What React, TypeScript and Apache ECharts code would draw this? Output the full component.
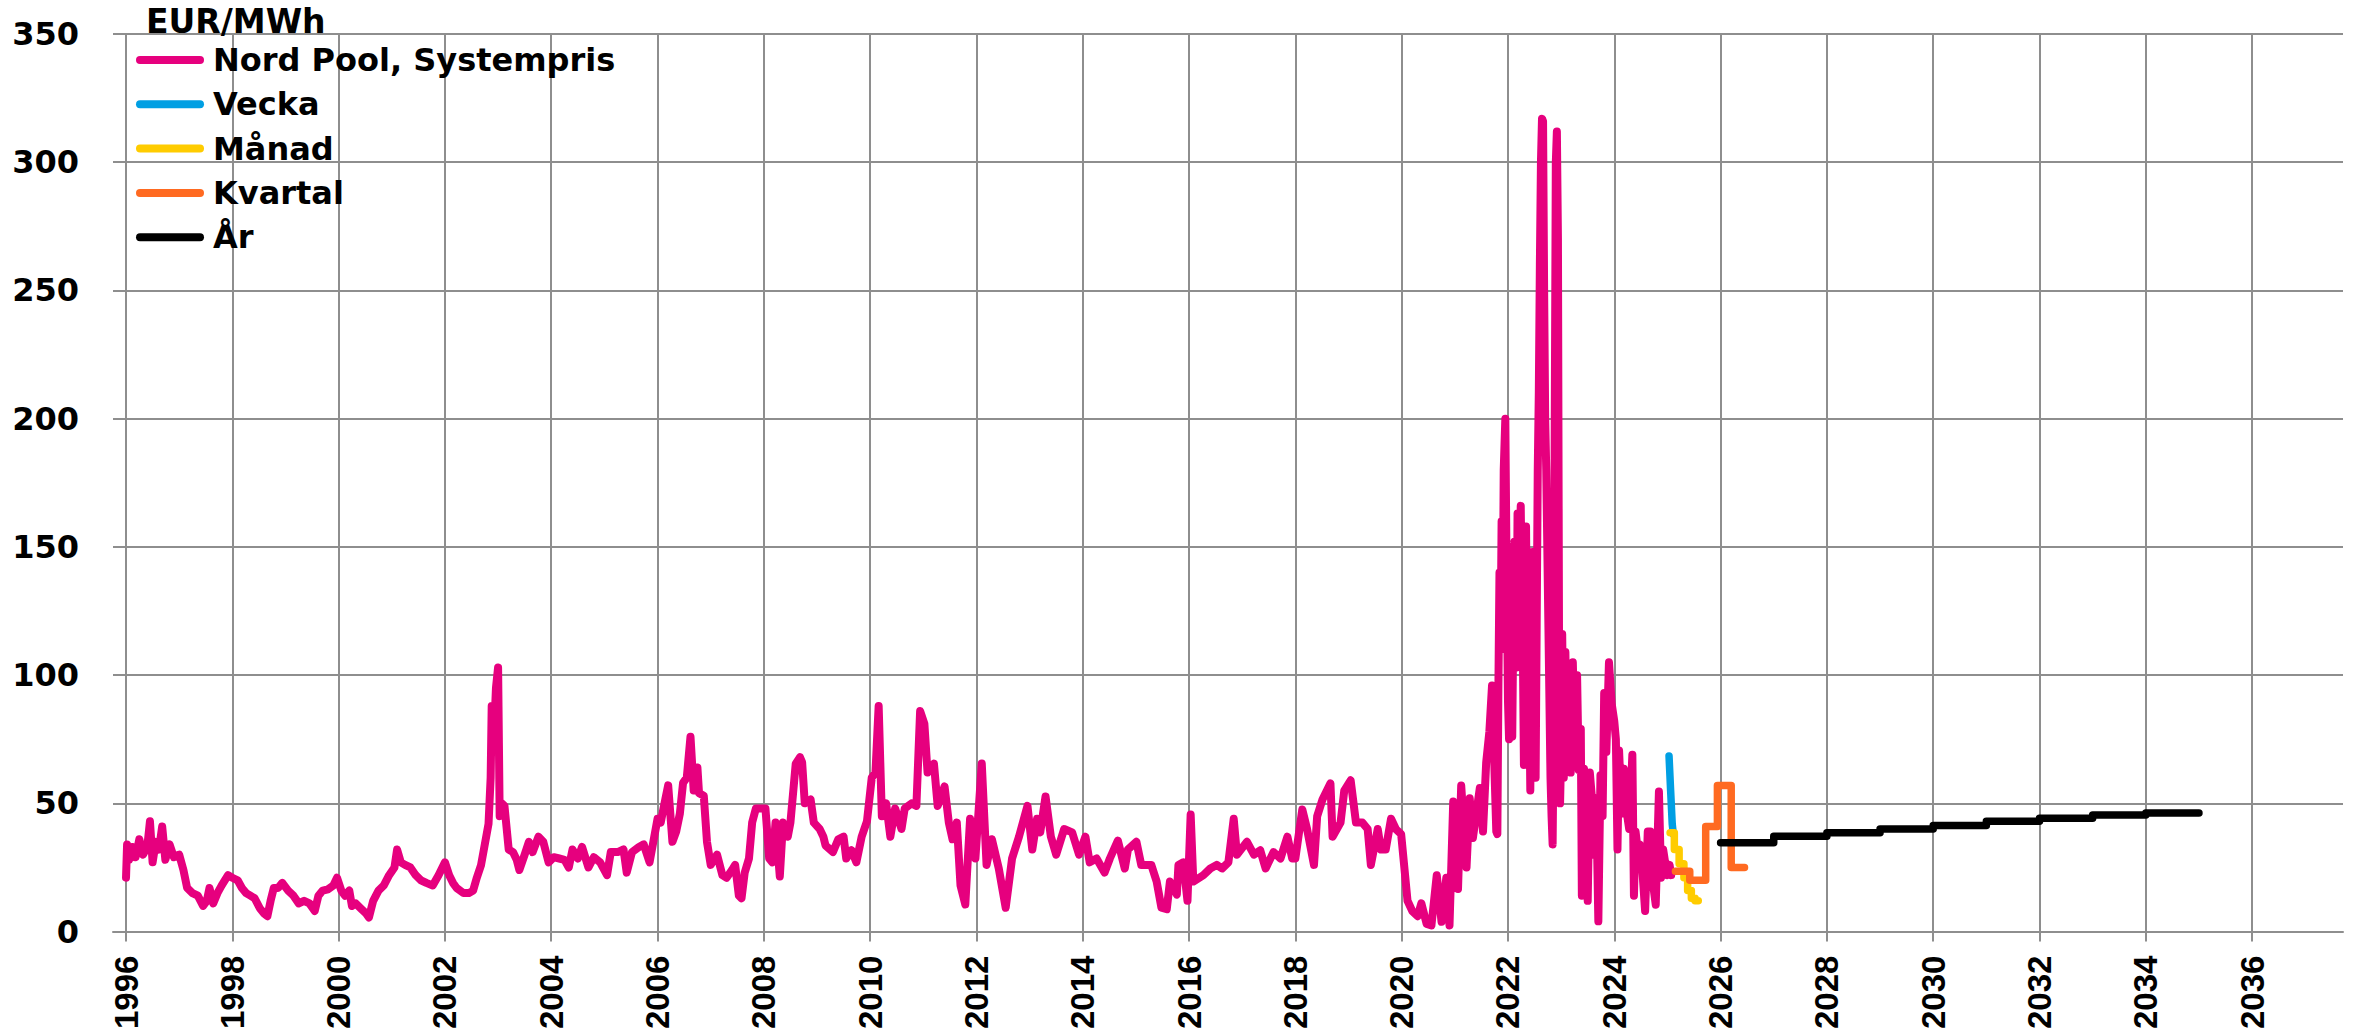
import React, { useEffect, useRef } from 'react';
import * as echarts from 'echarts';

const yearTicks = [1996, 1998, 2000, 2002, 2004, 2006, 2008, 2010, 2012, 2014, 2016, 2018, 2020, 2022, 2024, 2026, 2028, 2030, 2032, 2034, 2036];

const seriesNames = ['Nord Pool, Systempris', 'Vecka', 'Månad', 'Kvartal', 'År'];
const seriesColors = ['#E6007E', '#009FE3', '#FFCC00', '#FF6A21', '#000000'];

const nordPool: [number, number][] = [
  [1996.00, 21], [1996.02, 34], [1996.06, 28], [1996.12, 33], [1996.18, 29], [1996.25, 36], [1996.32, 30], [1996.40, 33], [1996.45, 43], [1996.50, 27],
  [1996.56, 35], [1996.62, 32], [1996.68, 41], [1996.74, 28], [1996.82, 34], [1996.90, 29], [1997.00, 30], [1997.08, 24], [1997.15, 17], [1997.25, 15],
  [1997.35, 14], [1997.45, 10], [1997.52, 12], [1997.57, 17], [1997.64, 11], [1997.72, 15], [1997.80, 18], [1997.92, 22], [1998.00, 21], [1998.10, 20],
  [1998.18, 17], [1998.26, 15], [1998.34, 14], [1998.42, 13], [1998.52, 9], [1998.60, 7], [1998.66, 6], [1998.72, 12], [1998.78, 17], [1998.86, 17],
  [1998.94, 19], [1999.05, 16], [1999.15, 14], [1999.25, 11], [1999.35, 12], [1999.45, 11], [1999.55, 8], [1999.62, 14], [1999.70, 16], [1999.80, 16.5],
  [1999.90, 18], [1999.97, 21], [2000.05, 16], [2000.12, 14], [2000.20, 16], [2000.25, 10], [2000.32, 11], [2000.42, 9], [2000.52, 7], [2000.57, 5.5],
  [2000.65, 12], [2000.75, 16], [2000.85, 18], [2000.95, 22], [2001.05, 25], [2001.10, 32], [2001.17, 27], [2001.25, 26], [2001.35, 25], [2001.45, 22],
  [2001.55, 20], [2001.65, 19], [2001.77, 18], [2001.88, 22], [2002.00, 27], [2002.08, 22], [2002.15, 19], [2002.22, 17], [2002.35, 15], [2002.45, 15],
  [2002.53, 16], [2002.60, 21], [2002.68, 26], [2002.75, 34], [2002.82, 42], [2002.86, 60], [2002.88, 88], [2002.92, 75], [2002.96, 95], [2003.00, 103],
  [2003.03, 45], [2003.07, 50], [2003.12, 49], [2003.20, 32], [2003.28, 31], [2003.35, 28], [2003.40, 24], [2003.50, 30], [2003.58, 35], [2003.65, 31],
  [2003.76, 37], [2003.85, 35], [2003.95, 27], [2004.05, 29], [2004.15, 28.5], [2004.25, 28], [2004.33, 25], [2004.40, 32], [2004.50, 28.5], [2004.58, 33],
  [2004.70, 25], [2004.80, 29], [2004.92, 27], [2005.05, 22], [2005.12, 31], [2005.25, 31], [2005.36, 32], [2005.42, 23], [2005.52, 31], [2005.65, 33],
  [2005.74, 34], [2005.85, 27], [2006.00, 44], [2006.06, 42.5], [2006.15, 52], [2006.20, 57], [2006.28, 35], [2006.35, 39], [2006.42, 46], [2006.48, 58],
  [2006.55, 60], [2006.62, 76], [2006.68, 55], [2006.75, 64], [2006.78, 54], [2006.87, 53], [2006.93, 35], [2007.00, 26], [2007.12, 30], [2007.22, 22],
  [2007.30, 21], [2007.40, 24], [2007.46, 26], [2007.53, 14], [2007.58, 13], [2007.64, 23], [2007.72, 28.5], [2007.78, 42.5], [2007.85, 48], [2007.95, 48],
  [2008.03, 48], [2008.10, 28.5], [2008.16, 27], [2008.22, 42.5], [2008.30, 21.5], [2008.36, 42.5], [2008.45, 37], [2008.50, 42.5], [2008.60, 65.5], [2008.68, 68],
  [2008.72, 66], [2008.77, 50], [2008.88, 51.5], [2008.94, 42.5], [2009.05, 40], [2009.12, 37], [2009.16, 33.6], [2009.30, 31], [2009.40, 36], [2009.50, 37],
  [2009.55, 28.5], [2009.65, 31.7], [2009.74, 27], [2009.84, 37], [2009.94, 43], [2010.03, 60], [2010.10, 62], [2010.16, 88], [2010.22, 45], [2010.30, 50],
  [2010.38, 37], [2010.47, 48], [2010.59, 40], [2010.65, 48], [2010.78, 50], [2010.87, 49], [2010.94, 86], [2011.02, 81], [2011.08, 62], [2011.20, 65.5],
  [2011.27, 49], [2011.40, 56.6], [2011.48, 42.5], [2011.55, 36], [2011.63, 42.5], [2011.70, 18], [2011.79, 10.6], [2011.88, 44], [2011.98, 28.5], [2012.10, 65.5],
  [2012.19, 26], [2012.29, 36], [2012.42, 24.6], [2012.55, 9.3], [2012.67, 28.5], [2012.80, 37], [2012.96, 49], [2013.05, 32], [2013.14, 44], [2013.20, 38.7],
  [2013.30, 52.7], [2013.40, 37], [2013.50, 30], [2013.65, 40], [2013.80, 38.7], [2013.93, 30], [2014.05, 37], [2014.13, 27], [2014.26, 28.5], [2014.41, 23],
  [2014.51, 28.5], [2014.66, 35.5], [2014.79, 24.6], [2014.85, 32], [2015.01, 35], [2015.10, 26], [2015.29, 26], [2015.39, 19.5], [2015.48, 9.3], [2015.58, 8.7],
  [2015.64, 19.5], [2015.77, 14.4], [2015.80, 26], [2015.89, 27], [2015.97, 12], [2016.03, 45.7], [2016.08, 19.5], [2016.27, 22], [2016.40, 24.6], [2016.52, 26],
  [2016.62, 24.6], [2016.74, 27], [2016.84, 44], [2016.90, 30], [2017.09, 35], [2017.22, 30], [2017.34, 31.7], [2017.44, 24.6], [2017.59, 31], [2017.72, 28.5],
  [2017.85, 37], [2017.94, 28.5], [2018.00, 28.5], [2018.13, 47.6], [2018.22, 40], [2018.35, 26], [2018.41, 45], [2018.51, 51.5], [2018.66, 57.8], [2018.70, 37],
  [2018.85, 42.5], [2018.92, 55], [2019.04, 59], [2019.14, 42.5], [2019.26, 42.5], [2019.36, 40], [2019.42, 26], [2019.55, 40], [2019.61, 32], [2019.70, 32],
  [2019.80, 44], [2019.89, 40], [2019.99, 38], [2020.05, 25], [2020.11, 12], [2020.20, 8], [2020.30, 6], [2020.37, 11], [2020.47, 3], [2020.56, 2.4],
  [2020.66, 22], [2020.75, 3.8], [2020.84, 21], [2020.90, 2.4], [2020.97, 50.7], [2021.06, 16.6], [2021.12, 57], [2021.22, 25], [2021.28, 52], [2021.34, 36.5],
  [2021.47, 56], [2021.53, 39], [2021.59, 66], [2021.65, 78], [2021.70, 96], [2021.75, 60], [2021.78, 39], [2021.80, 38], [2021.82, 96], [2021.84, 140],
  [2021.86, 110], [2021.88, 160], [2021.90, 120], [2021.92, 180], [2021.95, 200], [2021.97, 150], [2022.00, 90], [2022.02, 75], [2022.04, 100], [2022.06, 80],
  [2022.08, 76], [2022.10, 120], [2022.12, 152], [2022.14, 110], [2022.16, 103], [2022.18, 163], [2022.20, 120], [2022.22, 140], [2022.24, 166], [2022.26, 130],
  [2022.28, 110], [2022.30, 65], [2022.32, 120], [2022.34, 158], [2022.36, 100], [2022.38, 140], [2022.40, 95], [2022.42, 55], [2022.44, 110], [2022.46, 148],
  [2022.48, 130], [2022.50, 75], [2022.52, 60], [2022.54, 120], [2022.56, 180], [2022.58, 210], [2022.60, 260], [2022.62, 300], [2022.64, 317], [2022.66, 316],
  [2022.68, 250], [2022.70, 200], [2022.72, 180], [2022.74, 150], [2022.76, 120], [2022.78, 90], [2022.80, 60], [2022.82, 45], [2022.84, 34], [2022.86, 80],
  [2022.88, 200], [2022.90, 300], [2022.92, 312], [2022.94, 270], [2022.96, 115], [2022.98, 50], [2023.00, 70], [2023.02, 116], [2023.05, 60], [2023.08, 109],
  [2023.11, 66], [2023.15, 100], [2023.18, 62], [2023.22, 105], [2023.25, 78], [2023.30, 100], [2023.33, 63], [2023.37, 79], [2023.39, 14], [2023.43, 63.5],
  [2023.47, 52], [2023.50, 12], [2023.54, 62], [2023.58, 52], [2023.62, 30], [2023.66, 52], [2023.70, 4], [2023.74, 61], [2023.78, 45], [2023.81, 93],
  [2023.85, 70], [2023.90, 105], [2023.95, 89], [2024.00, 82], [2024.03, 75], [2024.06, 32], [2024.09, 70.6], [2024.14, 46], [2024.18, 63.5], [2024.22, 48.5],
  [2024.28, 40], [2024.34, 69], [2024.37, 14], [2024.40, 39], [2024.44, 32], [2024.48, 34], [2024.52, 26.5], [2024.58, 8], [2024.63, 39], [2024.68, 39],
  [2024.72, 20], [2024.78, 10.5], [2024.84, 54.6], [2024.88, 21], [2024.92, 32], [2024.96, 26.5], [2025.00, 22], [2025.04, 26], [2025.07, 22]
];

const vecka: [number, number][] = [[2025.03, 68.5], [2025.06, 55], [2025.09, 42], [2025.11, 38]];

const manad: [number, number][] = [
  [2025.05, 38.5], [2025.13, 32], [2025.22, 26.5], [2025.31, 21], [2025.38, 16], [2025.45, 13], [2025.52, 12], [2025.58, 12]
];

const kvartal: [number, number][] = [
  [2025.15, 23.5], [2025.42, 20], [2025.72, 41], [2025.94, 57], [2026.20, 25], [2026.45, 25]
];

const ar: [number, number][] = [
  [2026, 34.6], [2027, 37.2], [2028, 38.5], [2029, 40], [2030, 41.4], [2031, 43], [2032, 44.2], [2033, 45.5], [2034, 46.2], [2035, 46.2]
];

const GRID = '#8E8E8E';
const FONT = '"DejaVu Sans", Verdana, sans-serif';
const LEGEND_ICON = 'path://M4,0 H64 A4,4 0 0 1 64,8 H4 A4,4 0 0 1 4,0 Z';

export default function App() {
  const ref = useRef<HTMLDivElement>(null);
  useEffect(() => {
    if (!ref.current) return;
    const chart = echarts.init(ref.current, null, { renderer: 'svg' });
    const datasets = [nordPool, vecka, manad, kvartal, ar];
    const steps: (false | 'end')[] = [false, false, 'end', 'end', 'end'];
    chart.setOption({
      animation: false,
      backgroundColor: '#ffffff',
      title: {
        text: 'EUR/MWh',
        left: 141,
        top: 0,
        textStyle: { fontFamily: FONT, fontWeight: 'bold', fontSize: 33, color: '#000' }
      },
      legend: {
        orient: 'vertical',
        left: 136,
        top: 43,
        padding: 0,
        icon: LEGEND_ICON,
        itemWidth: 70,
        itemHeight: 8,
        itemGap: 10.3,
        data: seriesNames,
        textStyle: { fontFamily: FONT, fontWeight: 'bold', fontSize: 32, color: '#000', lineHeight: 34, padding: [0, 0, 0, 3] }
      },
      grid: { left: 113, top: 34, right: 11, bottom: 88, containLabel: false },
      xAxis: {
        type: 'value',
        min: 1995.755,
        max: 2037.71,
        axisLine: { show: true, lineStyle: { color: GRID, width: 2 } },
        axisTick: { show: true, length: 10, customValues: yearTicks, lineStyle: { color: GRID, width: 2 } },
        axisLabel: {
          customValues: yearTicks,
          rotate: 90,
          margin: 24,
          fontFamily: '"Liberation Sans Narrow", "Arial Narrow", sans-serif',
          fontWeight: 'bold',
          fontSize: 33,
          color: '#000',
          formatter: (v: number) => String(Math.round(v))
        },
        splitLine: { show: true, lineStyle: { color: GRID, width: 2 } }
      },
      yAxis: {
        type: 'value',
        min: 0,
        max: 350,
        interval: 50,
        axisLine: { show: false },
        axisTick: { show: false },
        axisLabel: { margin: 34, fontFamily: FONT, fontWeight: 'bold', fontSize: 32, color: '#000' },
        splitLine: { show: true, lineStyle: { color: GRID, width: 2 } }
      },
      series: seriesNames.map((name, i) => ({
        name,
        type: 'line',
        data: datasets[i],
        step: steps[i],
        symbol: 'none',
        showSymbol: false,
        color: seriesColors[i],
        lineStyle: { color: seriesColors[i], width: i === 0 ? 8 : 7.5, cap: 'round', join: 'round' },
        z: 2 + i
      }))
    });
    return () => chart.dispose();
  }, []);
  return <div ref={ref} style={{ position: 'absolute', left: 0, top: 0, width: 2354, height: 1032 }} />;
}
